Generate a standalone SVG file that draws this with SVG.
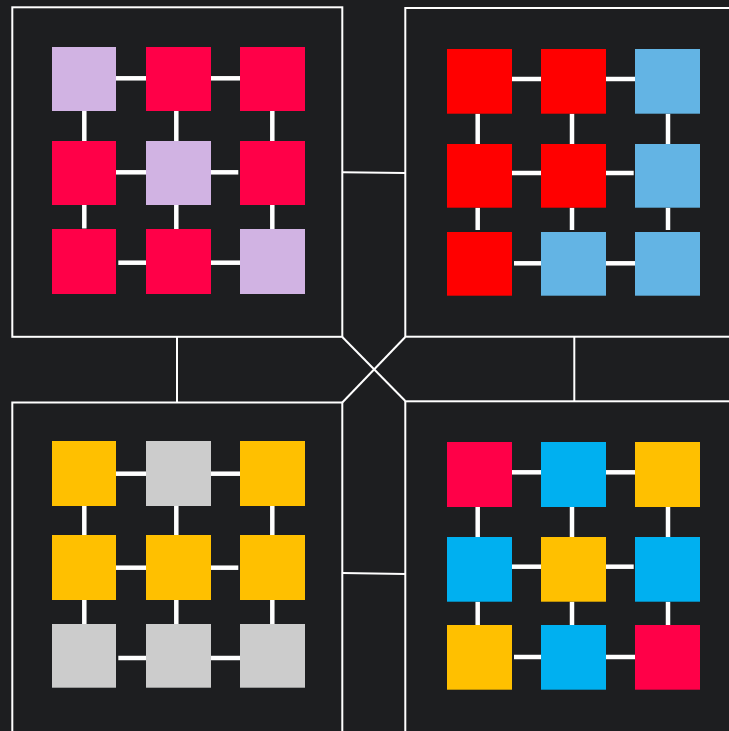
<svg xmlns="http://www.w3.org/2000/svg" width="729" height="731" viewBox="0 0 729 731">
<style>
.panel{fill:#1d1e20;stroke:#ffffff;stroke-width:2}
.link{stroke:#ffffff;stroke-width:2;fill:none}
.edge{stroke:#ffffff;stroke-width:4.5;fill:none}
.lav{fill:#d1b3e3}
.crim{fill:#ff0048}
.red{fill:#ff0000}
.lb{fill:#63b4e4}
.amb{fill:#ffc000}
.gry{fill:#cccccc}
.cy{fill:#00b0f0}
</style>
<rect x="0" y="0" width="729" height="731" fill="#1d1e20"/>
<g id="connectors">
<line class="link" x1="342.3" y1="172.3" x2="405.3" y2="173"/>
<line class="link" x1="177" y1="337" x2="177" y2="402.5"/>
<line class="link" x1="574.3" y1="337" x2="574.3" y2="401"/>
<line class="link" x1="342.3" y1="337" x2="405.3" y2="401"/>
<line class="link" x1="405.3" y1="337" x2="342.3" y2="402.5"/>
<line class="link" x1="342.3" y1="573" x2="405.3" y2="574"/>
</g>
<g id="panel-tl">
<rect class="panel" x="12.3" y="7.3" width="330" height="329.5"/>
<g id="tl-edges">
<line class="edge" x1="116" y1="78.3" x2="146" y2="78.3"/>
<line class="edge" x1="211" y1="78.3" x2="240" y2="78.3"/>
<line class="edge" x1="116" y1="172.3" x2="146" y2="172.3"/>
<line class="edge" x1="211" y1="172.3" x2="238.3" y2="172.3"/>
<line class="edge" x1="118.3" y1="262.7" x2="146" y2="262.7"/>
<line class="edge" x1="211" y1="262.7" x2="240" y2="262.7"/>
<line class="edge" x1="84.3" y1="111" x2="84.3" y2="141"/>
<line class="edge" x1="176.3" y1="111" x2="176.3" y2="141"/>
<line class="edge" x1="272.3" y1="111" x2="272.3" y2="141"/>
<line class="edge" x1="84.3" y1="205" x2="84.3" y2="228.5"/>
<line class="edge" x1="176.3" y1="205" x2="176.3" y2="229"/>
<line class="edge" x1="272.3" y1="205" x2="272.3" y2="229"/>
</g>
<g id="tl-1"><rect class="lav" x="52" y="47" width="64" height="64"/></g>
<g id="tl-2"><rect class="crim" x="146" y="47" width="65" height="64"/></g>
<g id="tl-3"><rect class="crim" x="240" y="47" width="65" height="64"/></g>
<g id="tl-4"><rect class="crim" x="52" y="141" width="64" height="64"/></g>
<g id="tl-5"><rect class="lav" x="146" y="141" width="65" height="64"/></g>
<g id="tl-6"><rect class="crim" x="240" y="141" width="65" height="64"/></g>
<g id="tl-7"><rect class="crim" x="52" y="229" width="64" height="65"/></g>
<g id="tl-8"><rect class="crim" x="146" y="229" width="65" height="65"/></g>
<g id="tl-9"><rect class="lav" x="240" y="229" width="65" height="65"/></g>
</g>
<g id="panel-tr">
<rect class="panel" x="405.3" y="8" width="340" height="328.7"/>
<g id="tr-edges">
<line class="edge" x1="512" y1="79" x2="541" y2="79"/>
<line class="edge" x1="606" y1="79" x2="635" y2="79"/>
<line class="edge" x1="512" y1="173" x2="541" y2="173"/>
<line class="edge" x1="606" y1="173" x2="633.7" y2="173"/>
<line class="edge" x1="514" y1="263.3" x2="541" y2="263.3"/>
<line class="edge" x1="606" y1="263.3" x2="635" y2="263.3"/>
<line class="edge" x1="477.7" y1="113.7" x2="477.7" y2="144"/>
<line class="edge" x1="572" y1="113.7" x2="572" y2="144"/>
<line class="edge" x1="668" y1="113.7" x2="668" y2="144"/>
<line class="edge" x1="477.7" y1="207.7" x2="477.7" y2="230"/>
<line class="edge" x1="572" y1="207.7" x2="572" y2="230"/>
<line class="edge" x1="668" y1="207.7" x2="668" y2="230"/>
</g>
<g id="tr-1"><rect class="red" x="447" y="49" width="65" height="64.7"/></g>
<g id="tr-2"><rect class="red" x="541" y="49" width="65" height="64.7"/></g>
<g id="tr-3"><rect class="lb" x="635" y="49" width="65" height="64.7"/></g>
<g id="tr-4"><rect class="red" x="447" y="144" width="65" height="63.7"/></g>
<g id="tr-5"><rect class="red" x="541" y="144" width="65" height="63.7"/></g>
<g id="tr-6"><rect class="lb" x="635" y="144" width="65" height="63.7"/></g>
<g id="tr-7"><rect class="red" x="447" y="232" width="65" height="63.7"/></g>
<g id="tr-8"><rect class="lb" x="541" y="232" width="65" height="63.7"/></g>
<g id="tr-9"><rect class="lb" x="635" y="232" width="65" height="63.7"/></g>
</g>
<g id="panel-bl">
<rect class="panel" x="12.3" y="402.5" width="330" height="340"/>
<g id="bl-edges">
<line class="edge" x1="116" y1="473.7" x2="146" y2="473.7"/>
<line class="edge" x1="211" y1="473.7" x2="240" y2="473.7"/>
<line class="edge" x1="116" y1="567.7" x2="146" y2="567.7"/>
<line class="edge" x1="211" y1="567.7" x2="238.3" y2="567.7"/>
<line class="edge" x1="118.3" y1="658" x2="146" y2="658"/>
<line class="edge" x1="211" y1="658" x2="240" y2="658"/>
<line class="edge" x1="84.3" y1="506" x2="84.3" y2="535"/>
<line class="edge" x1="176.3" y1="506" x2="176.3" y2="535"/>
<line class="edge" x1="272.3" y1="506" x2="272.3" y2="535"/>
<line class="edge" x1="84.3" y1="600" x2="84.3" y2="624"/>
<line class="edge" x1="176.3" y1="600" x2="176.3" y2="624"/>
<line class="edge" x1="272.3" y1="600" x2="272.3" y2="624"/>
</g>
<g id="bl-1"><rect class="amb" x="52" y="441" width="64" height="65"/></g>
<g id="bl-2"><rect class="gry" x="146" y="441" width="65" height="65"/></g>
<g id="bl-3"><rect class="amb" x="240" y="441" width="65" height="65"/></g>
<g id="bl-4"><rect class="amb" x="52" y="535" width="64" height="65"/></g>
<g id="bl-5"><rect class="amb" x="146" y="535" width="65" height="65"/></g>
<g id="bl-6"><rect class="amb" x="240" y="535" width="65" height="65"/></g>
<g id="bl-7"><rect class="gry" x="52" y="624" width="64" height="63.7"/></g>
<g id="bl-8"><rect class="gry" x="146" y="624" width="65" height="63.7"/></g>
<g id="bl-9"><rect class="gry" x="240" y="624" width="65" height="63.7"/></g>
</g>
<g id="panel-br">
<rect class="panel" x="405.3" y="401.3" width="340" height="340"/>
<g id="br-edges">
<line class="edge" x1="512" y1="472.3" x2="541" y2="472.3"/>
<line class="edge" x1="606" y1="472.3" x2="635" y2="472.3"/>
<line class="edge" x1="512" y1="566.7" x2="541" y2="566.7"/>
<line class="edge" x1="606" y1="566.7" x2="633.7" y2="566.7"/>
<line class="edge" x1="514" y1="657" x2="541" y2="657"/>
<line class="edge" x1="606" y1="657" x2="635" y2="657"/>
<line class="edge" x1="477.7" y1="507" x2="477.7" y2="537"/>
<line class="edge" x1="572" y1="507" x2="572" y2="537"/>
<line class="edge" x1="668" y1="507" x2="668" y2="537"/>
<line class="edge" x1="477.7" y1="601.7" x2="477.7" y2="625"/>
<line class="edge" x1="572" y1="601.7" x2="572" y2="625"/>
<line class="edge" x1="668" y1="601.7" x2="668" y2="625"/>
</g>
<g id="br-1"><rect class="crim" x="447" y="442" width="65" height="65"/></g>
<g id="br-2"><rect class="cy" x="541" y="442" width="65" height="65"/></g>
<g id="br-3"><rect class="amb" x="635" y="442" width="65" height="65"/></g>
<g id="br-4"><rect class="cy" x="447" y="537" width="65" height="64.7"/></g>
<g id="br-5"><rect class="amb" x="541" y="537" width="65" height="64.7"/></g>
<g id="br-6"><rect class="cy" x="635" y="537" width="65" height="64.7"/></g>
<g id="br-7"><rect class="amb" x="447" y="625" width="65" height="64.7"/></g>
<g id="br-8"><rect class="cy" x="541" y="625" width="65" height="64.7"/></g>
<g id="br-9"><rect class="crim" x="635" y="625" width="65" height="64.7"/></g>
</g>
</svg>
